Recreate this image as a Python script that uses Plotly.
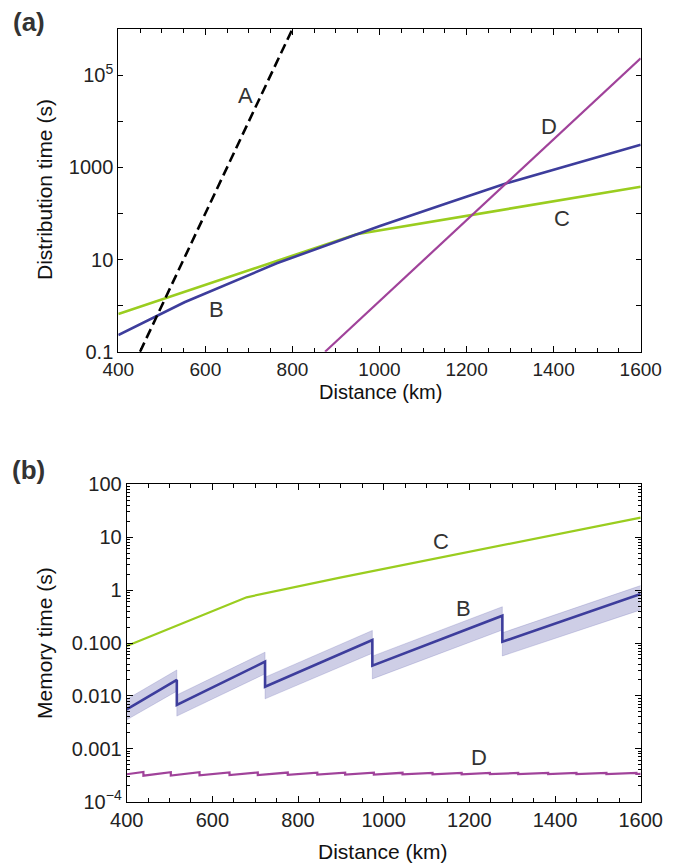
import plotly.graph_objects as go

W, H = 676, 865

# ---------------- Panel (a): distribution time ----------------
a_A_x = [450, 800]
a_A_y = [0.1, 1.0e6]

a_B_x = [400, 552, 764, 955, 1001, 1155, 1290, 1460, 1600]
a_B_y = [0.230, 1.18, 8.28, 37.6, 53.3, 166, 447, 1290, 3090]

a_C_x = [400, 947, 1600]
a_C_y = [0.658, 35.2, 380]

a_D_x = [875, 1600]
a_D_y = [0.1, 2.31e5]

a_ytickvals = [0.1, 10, 1000, 1e5]
a_yticktext = ["0.1", "10", "1000", "10<sup>5</sup>"]
a_yminor = [1, 100, 1e4, 1e6]

# ---------------- Panel (b): memory time ----------------
b_C_x = [400, 680, 898, 1600]
b_C_y = [0.0877, 0.731, 1.72, 23.4]

b_B_x = [400, 517, 517, 723, 723, 973.5, 973.5, 1277, 1277, 1600]
b_B_y = [0.00558, 0.0200, 0.00673, 0.0444, 0.01493, 0.114, 0.0372, 0.328, 0.1057, 0.843]
b_B_up = [0.00865, 0.0309, 0.01042, 0.0671, 0.0226, 0.1726, 0.0564, 0.485, 0.156, 1.219]
b_B_lo = [0.003524, 0.0123, 0.00415, 0.0261, 0.00879, 0.0641, 0.02094, 0.1762, 0.0568, 0.4227]

b_D_x = [400, 439, 439, 503, 503, 570, 570, 640, 640, 706, 706, 776, 776, 845, 845,
         910, 910, 977, 977, 1044, 1044, 1114, 1114, 1182, 1182, 1248, 1248, 1314, 1314,
         1384, 1384, 1450, 1450, 1520, 1520, 1590, 1590, 1600]
b_D_y = [3.30e-4, 3.65e-4, 3.10e-4, 3.62e-4, 3.12e-4, 3.60e-4, 3.15e-4, 3.58e-4, 3.18e-4,
         3.57e-4, 3.20e-4, 3.56e-4, 3.22e-4, 3.55e-4, 3.24e-4, 3.54e-4, 3.25e-4, 3.53e-4,
         3.27e-4, 3.52e-4, 3.28e-4, 3.52e-4, 3.29e-4, 3.51e-4, 3.30e-4, 3.51e-4, 3.31e-4,
         3.50e-4, 3.32e-4, 3.50e-4, 3.32e-4, 3.50e-4, 3.33e-4, 3.50e-4, 3.33e-4, 3.50e-4,
         3.34e-4, 3.36e-4]

b_ytickvals = [1e-4, 1e-3, 1e-2, 1e-1, 1, 10, 100]
b_yticktext = ["10<sup>\u22124</sup>", "0.001", "0.010", "0.100", "1", "10", "100"]
b_yminor = [m * 10.0 ** e for e in range(-4, 2) for m in range(2, 10)]

x_tickvals = [400, 600, 800, 1000, 1200, 1400, 1600]

BLUE = "#3d3d9c"
GREEN = "#9acd1f"
PURPLE = "#a0429a"
FONT = "Liberation Sans, Arial, sans-serif"

fig = go.Figure()

# Panel (a)
fig.add_trace(go.Scatter(x=a_C_x, y=a_C_y, mode="lines", line=dict(color=GREEN, width=2.6),
                         xaxis="x", yaxis="y", showlegend=False))
fig.add_trace(go.Scatter(x=a_B_x, y=a_B_y, mode="lines", line=dict(color=BLUE, width=2.6),
                         xaxis="x", yaxis="y", showlegend=False))
fig.add_trace(go.Scatter(x=a_D_x, y=a_D_y, mode="lines", line=dict(color=PURPLE, width=2.2),
                         xaxis="x", yaxis="y", showlegend=False))
fig.add_trace(go.Scatter(x=a_A_x, y=a_A_y, mode="lines",
                         line=dict(color="black", width=2.6, dash="10px,5px"),
                         xaxis="x", yaxis="y", showlegend=False))

# Panel (b)
fig.add_trace(go.Scatter(x=b_B_x, y=b_B_up, mode="lines",
                         line=dict(color="rgba(61,61,156,0.18)", width=1),
                         xaxis="x2", yaxis="y2", showlegend=False))
fig.add_trace(go.Scatter(x=b_B_x, y=b_B_lo, mode="lines", fill="tonexty",
                         fillcolor="rgba(61,61,156,0.25)",
                         line=dict(color="rgba(61,61,156,0.18)", width=1),
                         xaxis="x2", yaxis="y2", showlegend=False))
fig.add_trace(go.Scatter(x=b_C_x, y=b_C_y, mode="lines", line=dict(color=GREEN, width=2.2),
                         xaxis="x2", yaxis="y2", showlegend=False))
fig.add_trace(go.Scatter(x=b_B_x, y=b_B_y, mode="lines", line=dict(color=BLUE, width=2.6),
                         xaxis="x2", yaxis="y2", showlegend=False))
fig.add_trace(go.Scatter(x=b_D_x, y=b_D_y, mode="lines", line=dict(color=PURPLE, width=2.2),
                         xaxis="x2", yaxis="y2", showlegend=False))

axis_common = dict(
    showline=True, linecolor="black", linewidth=1, mirror="ticks",
    ticks="inside", tickcolor="black", showgrid=False, zeroline=False,
    automargin=False,
    tickfont=dict(family=FONT, size=20, color="#222"),
)

xcommon = dict(axis_common, range=[400, 1600], tickvals=x_tickvals,
               ticklen=6, tickwidth=1,
               minor=dict(ticks="inside", dtick=50, tick0=400, ticklen=4, tickcolor="black",
                          showgrid=False))


def px2fx(p):
    return p / W


def py2fy(p):
    return 1 - p / H


fig.update_layout(
    width=W, height=H, margin=dict(l=0, r=0, t=0, b=0, autoexpand=False),
    paper_bgcolor="white", plot_bgcolor="white",
    xaxis=dict(xcommon, domain=[px2fx(118.3), px2fx(640.7)], anchor="y",
               tickfont=dict(family=FONT, size=19, color="#222")),
    yaxis=dict(axis_common, type="log", range=[-1, 6], domain=[py2fy(351.7), py2fy(29)],
               anchor="x", tickvals=a_ytickvals, ticktext=a_yticktext, ticklen=5,
               minor=dict(ticks="inside", tickvals=a_yminor, ticklen=5, tickcolor="black",
                          showgrid=False)),
    xaxis2=dict(xcommon, domain=[px2fx(126.7), px2fx(640.7)], anchor="y2"),
    yaxis2=dict(axis_common, type="log", range=[-4, 2], domain=[py2fy(801.7), py2fy(484.3)],
                anchor="x2", tickvals=b_ytickvals, ticktext=b_yticktext, ticklen=6,
                minor=dict(ticks="inside", tickvals=b_yminor, ticklen=3, tickcolor="black",
                           showgrid=False)),
)

ann = []


def text(x, y, s, size=21, angle=0, color="#333"):
    ann.append(dict(x=px2fx(x), y=py2fy(y), xref="paper", yref="paper", text=s,
                    showarrow=False, textangle=angle, xanchor="center", yanchor="middle",
                    font=dict(family=FONT, size=size, color=color)))


# panel labels
text(29, 22, "<b>(a)</b>", size=26)
text(29, 470, "<b>(b)</b>", size=26)
# axis titles
text(380, 392, "Distance (km)", size=20, color="#111")
text(383, 851, "Distance (km)", size=21, color="#111")
text(44, 190, "Distribution time (s)", size=21, angle=-90, color="#111")
text(44, 643, "Memory time (s)", size=21, angle=-90, color="#111")
# curve labels panel (a)
text(245, 96, "A", size=22)
text(216, 310, "B", size=22)
text(562, 218, "C", size=22)
text(549, 126, "D", size=22)
# curve labels panel (b)
text(441, 541, "C", size=22)
text(463, 608, "B", size=22)
text(479, 757, "D", size=22)

fig.update_layout(annotations=ann)

fig.write_html("out.html", config={"displayModeBar": False},
               post_script="document.body.style.margin='0';")
